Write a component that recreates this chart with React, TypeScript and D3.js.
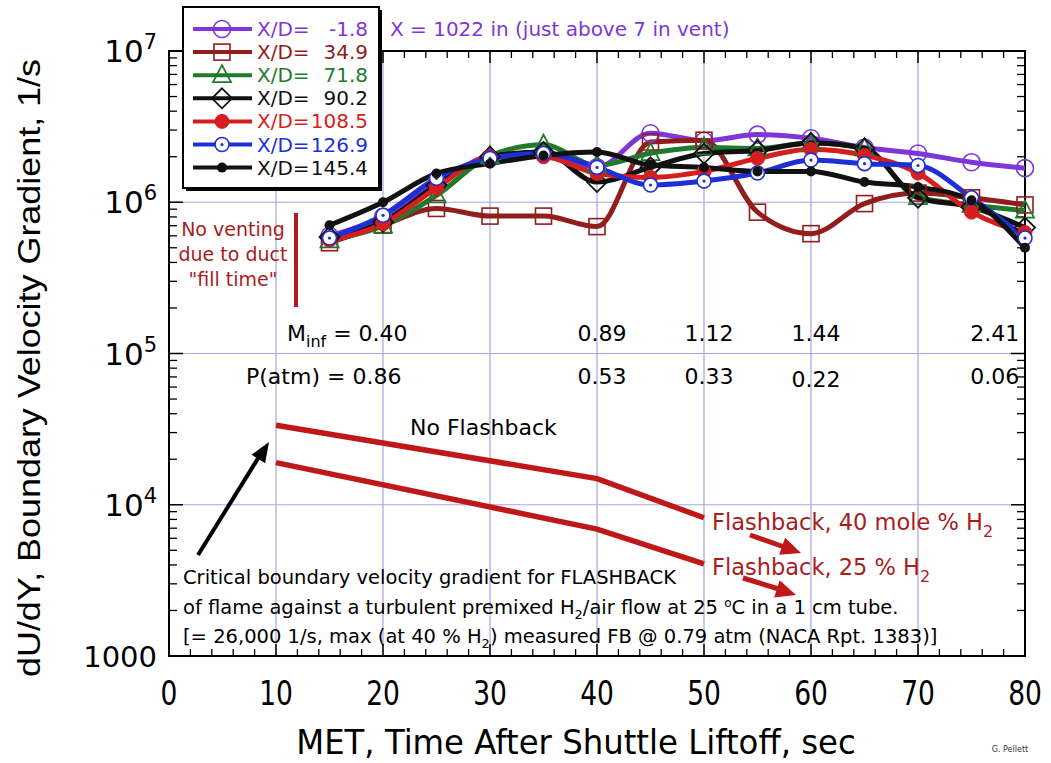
import React from "react";
import * as d3 from "d3";

// ---- data ----
const times = [15, 20, 25, 30, 35, 40, 45, 50, 55, 60, 65, 70, 75, 80];
const xdM18 = [6.0e5, 8.0e5, 1.35e6, 1.95e6, 2.15e6, 1.7e6, 2.86e6, 2.55e6, 2.8e6, 2.65e6, 2.3e6, 2.1e6, 1.84e6, 1.68e6];
const xd349 = [5.4e5, 7.05e5, 9.1e5, 8.1e5, 8.1e5, 6.9e5, 2.5e6, 2.57e6, 8.6e5, 6.2e5, 9.8e5, 1.15e6, 1.07e6, 9.6e5];
const xd718 = [5.6e5, 7.0e5, 1.11e6, 2.02e6, 2.4e6, 1.75e6, 2.11e6, 2.3e6, 2.27e6, 2.46e6, 2.27e6, 1.08e6, 9.6e5, 8.8e5];
const xd902 = [5.9e5, 7.4e5, 1.3e6, 2.0e6, 2.15e6, 1.36e6, 1.7e6, 2.1e6, 2.2e6, 2.46e6, 2.27e6, 1.07e6, 9.3e5, 6.8e5];
const xd1085 = [5.6e5, 7.2e5, 1.24e6, 2.0e6, 2.0e6, 1.55e6, 1.46e6, 1.6e6, 1.95e6, 2.24e6, 2.04e6, 1.56e6, 8.6e5, 6.3e5];
const xd1269 = [5.8e5, 8.2e5, 1.44e6, 1.95e6, 2.1e6, 1.7e6, 1.3e6, 1.38e6, 1.56e6, 1.9e6, 1.8e6, 1.75e6, 1.07e6, 5.8e5];
const xd1454 = [7.05e5, 1.0e6, 1.55e6, 1.8e6, 2.04e6, 2.15e6, 1.76e6, 1.7e6, 1.6e6, 1.6e6, 1.36e6, 1.26e6, 1.03e6, 5.0e5];

const seriesLabels = ["-1.8", "34.9", "71.8", "90.2", "108.5", "126.9", "145.4"];

const fbTimes = [10, 40, 50];
const fb40 = [33500, 14900, 8200];
const fb25 = [19000, 6900, 4060];

const machTimes = [40, 50, 60, 76.7];
const machLabels = ["0.89", "1.12", "1.44", "2.41"];
const pTimes = [40, 50, 60, 76.7];
const pLabels = ["0.53", "0.33", "0.22", "0.06"];

const xTicks = [0, 10, 20, 30, 40, 50, 60, 70, 80];
const yDecades = [1000, 1e4, 1e5, 1e6, 1e7];
const yExps = [null, 4, 5, 6, 7];

// ---- styles ----
const COLORS = ["#7f36d8", "#931c1c", "#1f7a2c", "#111111", "#d51e1e", "#1d2fd6", "#111111"];
const MARKERS = ["circle", "square", "triangle", "diamond", "dot", "bullseye", "smalldot"];
const SERIES = [xdM18, xd349, xd718, xd902, xd1085, xd1269, xd1454];
const RED = "#c01818";
const DARKRED = "#a81c1c";
const GRID = "#a6a6e0";
const FONT = "'DejaVu Sans', Verdana, sans-serif";

function Marker({ type, cx, cy, color }: { type: string; cx: number; cy: number; color: string }) {
  switch (type) {
    case "circle":
      return <circle cx={cx} cy={cy} r={8.5} fill="none" stroke={color} strokeWidth={1.6} />;
    case "square":
      return <rect x={cx - 8} y={cy - 8} width={16} height={16} fill="none" stroke={color} strokeWidth={1.6} />;
    case "triangle":
      return (
        <polygon
          points={`${cx},${cy - 10} ${cx + 9},${cy + 7} ${cx - 9},${cy + 7}`}
          fill="none"
          stroke={color}
          strokeWidth={1.8}
        />
      );
    case "diamond":
      return (
        <polygon
          points={`${cx},${cy - 10} ${cx + 10},${cy} ${cx},${cy + 10} ${cx - 10},${cy}`}
          fill="none"
          stroke={color}
          strokeWidth={1.8}
        />
      );
    case "dot":
      return <circle cx={cx} cy={cy} r={7} fill={color} stroke={color} strokeWidth={1} />;
    case "bullseye":
      return (
        <g>
          <circle cx={cx} cy={cy} r={7} fill="#fff" stroke={color} strokeWidth={1.6} />
          <circle cx={cx} cy={cy} r={1.6} fill={color} />
        </g>
      );
    default:
      return <circle cx={cx} cy={cy} r={5} fill={color} />;
  }
}

function arrowHead(x1: number, y1: number, x2: number, y2: number, len: number, half: number) {
  const a = Math.atan2(y2 - y1, x2 - x1);
  const bx = x2 - len * Math.cos(a);
  const by = y2 - len * Math.sin(a);
  const px = -Math.sin(a) * half;
  const py = Math.cos(a) * half;
  return `${x2},${y2} ${bx + px},${by + py} ${bx - px},${by - py}`;
}

export default function App() {
  const x = d3.scaleLinear().domain([0, 80]).range([169, 1025]);
  const y = d3.scaleLog().domain([1000, 1e7]).range([656, 51]);
  const line = d3
    .line<[number, number]>()
    .x((d) => x(d[0]))
    .y((d) => y(d[1]))
    .curve(d3.curveMonotoneX);
  const straight = d3
    .line<[number, number]>()
    .x((d) => x(d[0]))
    .y((d) => y(d[1]));

  const minorY: number[] = [];
  for (let e = 3; e < 7; e++) for (let m = 2; m <= 9; m++) minorY.push(m * Math.pow(10, e));
  const minorX: number[] = d3.range(0, 81, 2).filter((v) => v % 10 !== 0);

  const [x0, x1] = x.range();
  const [yb, yt] = y.range();

  const fa1 = [750, 535, 801, 553];
  const fa2 = [743, 578, 796, 595];

  return (
    <svg width={1051} height={763} style={{ position: "absolute", left: 0, top: 0, background: "#fff" }}>
      <rect width={1051} height={763} fill="#fff" />
      {/* grid */}
      {xTicks.slice(1, -1).map((t) => (
        <line key={"gx" + t} x1={x(t)} x2={x(t)} y1={yt} y2={yb} stroke={GRID} strokeWidth={1.2} />
      ))}
      {yDecades.slice(1, -1).map((t) => (
        <line key={"gy" + t} x1={x0} x2={x1} y1={y(t)} y2={y(t)} stroke={GRID} strokeWidth={1.2} />
      ))}

      {/* ticks */}
      {minorY.map((t) => (
        <g key={"my" + t}>
          <line x1={x0} x2={x0 + 8} y1={y(t)} y2={y(t)} stroke="#000" strokeWidth={1.3} />
          <line x1={x1} x2={x1 - 8} y1={y(t)} y2={y(t)} stroke="#000" strokeWidth={1.3} />
        </g>
      ))}
      {yDecades.map((t) => (
        <g key={"My" + t}>
          <line x1={x0} x2={x0 + 14} y1={y(t)} y2={y(t)} stroke="#000" strokeWidth={1.5} />
          <line x1={x1} x2={x1 - 14} y1={y(t)} y2={y(t)} stroke="#000" strokeWidth={1.5} />
        </g>
      ))}
      {minorX.map((t) => (
        <g key={"mx" + t}>
          <line x1={x(t)} x2={x(t)} y1={yb} y2={yb - 7} stroke="#000" strokeWidth={1.3} />
          <line x1={x(t)} x2={x(t)} y1={yt} y2={yt + 7} stroke="#000" strokeWidth={1.3} />
        </g>
      ))}
      {xTicks.map((t) => (
        <g key={"Mx" + t}>
          <line x1={x(t)} x2={x(t)} y1={yb} y2={yb - 12} stroke="#000" strokeWidth={1.5} />
          <line x1={x(t)} x2={x(t)} y1={yt} y2={yt + 12} stroke="#000" strokeWidth={1.5} />
        </g>
      ))}
      <rect x={x0} y={yt} width={x1 - x0} height={yb - yt} fill="none" stroke="#000" strokeWidth={2} />

      {/* tick labels */}
      {yDecades.map((t, i) => (
        <text key={"ly" + t} x={157} y={y(t) + 11} textAnchor="end" fontFamily={FONT} fontSize={31} fill="#000">
          {yExps[i] === null ? (
            <tspan fontSize={29}>1000</tspan>
          ) : (
            <>
              10
              <tspan fontSize={21} dy={-13}>
                {yExps[i]}
              </tspan>
            </>
          )}
        </text>
      ))}
      {xTicks.map((t) => (
        <g key={"lx" + t} transform={`translate(${x(t)},705) scale(0.78,1)`}>
          <text x={0} y={0} textAnchor="middle" fontFamily={FONT} fontSize={34} fill="#000">
            {t}
          </text>
        </g>
      ))}
      <g transform="translate(576,754) scale(0.98,1)">
        <text x={0} y={0} textAnchor="middle" fontFamily={FONT} fontSize={33} fill="#000">
          MET, Time After Shuttle Liftoff, sec
        </text>
      </g>
      <text
        transform={`translate(40,368) rotate(-90)`}
        textAnchor="middle"
        fontFamily="'Liberation Sans', Arial, sans-serif"
        fontSize={31}
        fill="#000"
        textLength={618}
        lengthAdjust="spacingAndGlyphs"
      >
        dU/dY, Boundary Velocity Gradient, 1/s
      </text>
      <text x={1010} y={752} textAnchor="middle" fontFamily={FONT} fontSize={8} fill="#333">
        G. Pellett
      </text>

      {/* flashback lines */}
      <path d={straight(fbTimes.map((t, i) => [t, fb40[i]]) as [number, number][]) || ""} fill="none" stroke={RED} strokeWidth={5.5} />
      <path d={straight(fbTimes.map((t, i) => [t, fb25[i]]) as [number, number][]) || ""} fill="none" stroke={RED} strokeWidth={5.5} />

      {/* data lines */}
      {SERIES.map((s, k) => (
        <path
          key={"ln" + k}
          d={line(times.map((t, i) => [t, s[i]]) as [number, number][]) || ""}
          fill="none"
          stroke={COLORS[k]}
          strokeWidth={5}
          strokeLinejoin="round"
        />
      ))}
      {SERIES.map((s, k) => (
        <g key={"mk" + k}>
          {times.map((t, i) => (
            <Marker key={i} type={MARKERS[k]} cx={x(t)} cy={y(s[i])} color={COLORS[k]} />
          ))}
        </g>
      ))}

      {/* legend */}
      <rect x={186} y={10} width={196} height={181} fill="#000" />
      <rect x={183} y={7} width={196} height={181} fill="#fff" stroke="#000" strokeWidth={2} />
      {seriesLabels.map((lab, k) => {
        const ly = 29 + k * 23.1;
        return (
          <g key={"lg" + k}>
            <line x1={193} x2={252} y1={ly} y2={ly} stroke={COLORS[k]} strokeWidth={4} />
            <Marker type={MARKERS[k]} cx={222} cy={ly} color={COLORS[k]} />
            <text x={257} y={ly + 7} fontFamily={FONT} fontSize={20} fill={COLORS[k]}>
              X/D=
            </text>
            <text x={368} y={ly + 7} textAnchor="end" fontFamily={FONT} fontSize={20} fill={COLORS[k]}>
              {lab}
            </text>
          </g>
        );
      })}
      <text x={390} y={36} fontFamily={FONT} fontSize={20} fill={COLORS[0]}>
        X = 1022 in (just above 7 in vent)
      </text>

      {/* annotations */}
      {["No venting", "due to duct", "\"fill time\""].map((s, i) => (
        <text key={"nv" + i} x={233} y={236 + i * 25} textAnchor="middle" fontFamily={FONT} fontSize={19} fill={DARKRED}>
          {s}
        </text>
      ))}
      <line x1={296} x2={296} y1={213} y2={307} stroke={DARKRED} strokeWidth={4} />

      <text x={287} y={341} fontFamily={FONT} fontSize={22} fill="#000">
        M<tspan fontSize={16} dy={6}>inf</tspan>
        <tspan dy={-6}> = 0.40</tspan>
      </text>
      {machTimes.map((t, i) => (
        <text key={"m" + i} x={x(t) + 5} y={341} textAnchor="middle" fontFamily={FONT} fontSize={22} fill="#000">
          {machLabels[i]}
        </text>
      ))}
      <text x={246} y={384} fontFamily={FONT} fontSize={22} fill="#000">
        P(atm) = 0.86
      </text>
      {pTimes.map((t, i) => (
        <text key={"p" + i} x={x(t) + 5} y={i === 2 ? 387 : 384} textAnchor="middle" fontFamily={FONT} fontSize={22} fill="#000">
          {pLabels[i]}
        </text>
      ))}

      <text x={410} y={435} fontFamily={FONT} fontSize={22} fill="#000">
        No Flashback
      </text>
      {/* black arrow */}
      <line x1={198} x2={262} y1={555} y2={452} stroke="#000" strokeWidth={4} />
      <polygon points={arrowHead(198, 555, 269, 442, 20, 8)} fill="#000" />

      <text x={183} y={584} fontFamily={FONT} fontSize={19.5} fill="#000">
        Critical boundary velocity gradient for FLASHBACK
      </text>
      <text x={183} y={614} fontFamily={FONT} fontSize={19.5} fill="#000">
        of flame against a turbulent premixed H<tspan fontSize={13} dy={5}>2</tspan>
        <tspan dy={-5}>/air flow at 25 </tspan>
        <tspan fontSize={12} dy={-7}>o</tspan>
        <tspan dy={7}>C in a 1 cm tube.</tspan>
      </text>
      <text x={183} y={643} fontFamily={FONT} fontSize={19.5} fill="#000">
        [= 26,000 1/s, max (at 40 % H<tspan fontSize={13} dy={5}>2</tspan>
        <tspan dy={-5}>) measured FB @ 0.79 atm (NACA Rpt. 1383)]</tspan>
      </text>

      <text x={712} y={530} fontFamily={FONT} fontSize={22.5} fill={DARKRED}>
        Flashback, 40 mole % H<tspan fontSize={16} dy={7}>2</tspan>
      </text>
      <text x={712} y={575} fontFamily={FONT} fontSize={22.5} fill={DARKRED}>
        Flashback, 25 % H<tspan fontSize={16} dy={7}>2</tspan>
      </text>
      <line x1={fa1[0]} y1={fa1[1]} x2={fa1[2] - 14} y2={fa1[3] - 5} stroke={RED} strokeWidth={5} />
      <polygon points={arrowHead(fa1[0], fa1[1], fa1[2], fa1[3], 20, 9)} fill={RED} />
      <line x1={fa2[0]} y1={fa2[1]} x2={fa2[2] - 14} y2={fa2[3] - 5} stroke={RED} strokeWidth={5} />
      <polygon points={arrowHead(fa2[0], fa2[1], fa2[2], fa2[3], 20, 9)} fill={RED} />
    </svg>
  );
}
